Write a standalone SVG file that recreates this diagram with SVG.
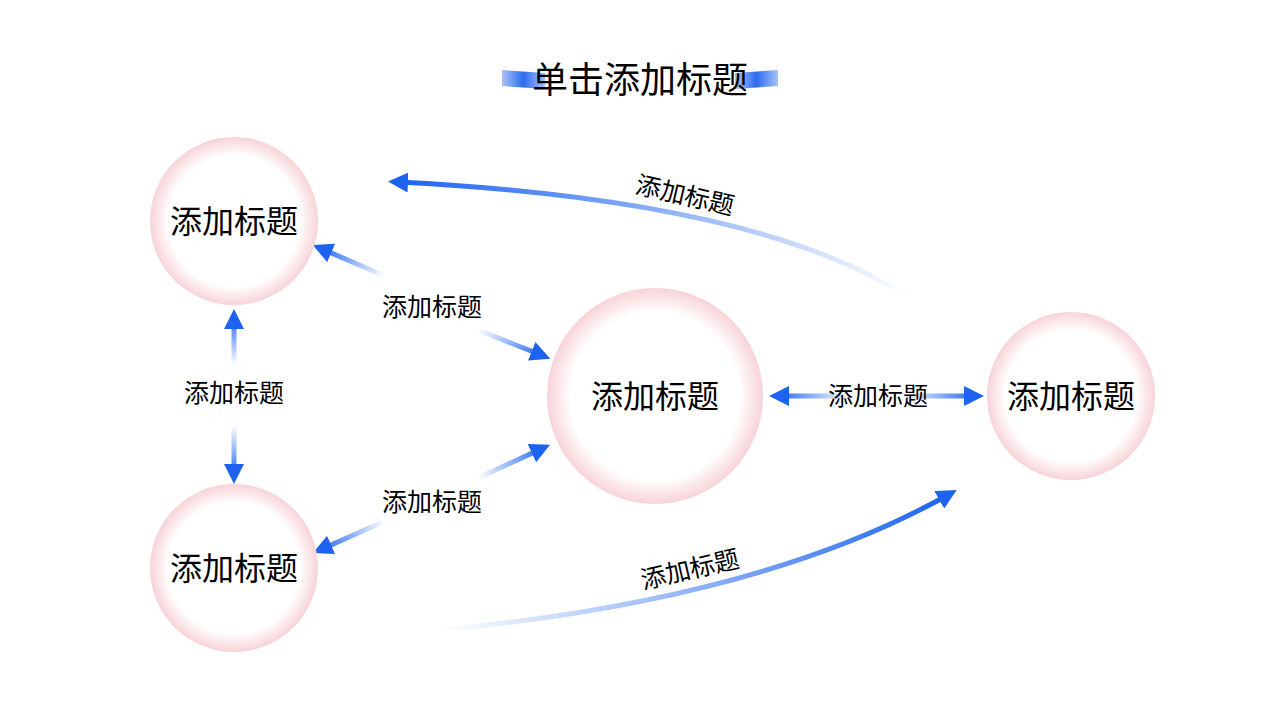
<svg xmlns="http://www.w3.org/2000/svg" width="1280" height="720" viewBox="0 0 1280 720">
<defs>
<radialGradient id="cg"><stop offset="0.78" stop-color="#fff"/><stop offset="1" stop-color="#f7d3d8"/></radialGradient>
<marker id="ah" viewBox="0 0 10 10" refX="5" refY="5" markerWidth="4" markerHeight="4" orient="auto" markerUnits="strokeWidth"><path d="M0,0L10,5L0,10z" fill="#1d63f0"/></marker>
<linearGradient id="g1" gradientUnits="userSpaceOnUse" x1="385" y1="276" x2="318" y2="247"><stop offset="0" stop-color="#1d63f0" stop-opacity="0"/><stop offset="1" stop-color="#1d63f0"/></linearGradient>
<linearGradient id="g2" gradientUnits="userSpaceOnUse" x1="478" y1="330" x2="545" y2="357"><stop offset="0" stop-color="#1d63f0" stop-opacity="0"/><stop offset="1" stop-color="#1d63f0"/></linearGradient>
<linearGradient id="g3" gradientUnits="userSpaceOnUse" x1="234" y1="365" x2="234" y2="315"><stop offset="0" stop-color="#1d63f0" stop-opacity="0"/><stop offset="1" stop-color="#1d63f0"/></linearGradient>
<linearGradient id="g4" gradientUnits="userSpaceOnUse" x1="234" y1="425" x2="234" y2="478"><stop offset="0" stop-color="#1d63f0" stop-opacity="0"/><stop offset="1" stop-color="#1d63f0"/></linearGradient>
<linearGradient id="g5" gradientUnits="userSpaceOnUse" x1="478" y1="478" x2="545" y2="447"><stop offset="0" stop-color="#1d63f0" stop-opacity="0"/><stop offset="1" stop-color="#1d63f0"/></linearGradient>
<linearGradient id="g6" gradientUnits="userSpaceOnUse" x1="385" y1="521" x2="318" y2="551"><stop offset="0" stop-color="#1d63f0" stop-opacity="0"/><stop offset="1" stop-color="#1d63f0"/></linearGradient>
<linearGradient id="g7" gradientUnits="userSpaceOnUse" x1="850" y1="396" x2="775" y2="396"><stop offset="0" stop-color="#1d63f0" stop-opacity="0"/><stop offset="1" stop-color="#1d63f0"/></linearGradient>
<linearGradient id="g8" gradientUnits="userSpaceOnUse" x1="900" y1="396" x2="978" y2="396"><stop offset="0" stop-color="#1d63f0" stop-opacity="0"/><stop offset="1" stop-color="#1d63f0"/></linearGradient>
<linearGradient id="g9" gradientUnits="userSpaceOnUse" x1="910" y1="298" x2="400" y2="183"><stop offset="0" stop-color="#1d63f0" stop-opacity="0"/><stop offset="1" stop-color="#1d63f0"/></linearGradient>
<linearGradient id="g10" gradientUnits="userSpaceOnUse" x1="440" y1="630" x2="945" y2="497"><stop offset="0" stop-color="#1d63f0" stop-opacity="0"/><stop offset="1" stop-color="#1d63f0"/></linearGradient>
<linearGradient id="tb" x1="0" y1="0" x2="1" y2="0"><stop offset="0" stop-color="#a9c2f5"/><stop offset="0.5" stop-color="#2d6cf0"/><stop offset="1" stop-color="#a9c2f5"/></linearGradient>
<style>
.n{fill:url(#cg)}
.t{font-family:"Noto Sans CJK SC","Noto Sans",sans-serif;fill:#000;text-anchor:middle}
.nt{font-size:32px}
.lt{font-size:25px}
.c{fill:none;stroke-width:5;marker-end:url(#ah)}
</style>
</defs>
<g id="title">
<path d="M502,70L545,73L545,89L502,86z" fill="url(#tb)"/>
<path d="M735,73L778,70L778,86L735,89z" fill="url(#tb)"/>
<text class="t" x="640" y="93" font-size="36">单击添加标题</text>
</g>
<g id="connectors">
<path class="c" d="M385,276L322,249" stroke="url(#g1)"/>
<path class="c" d="M478,330L541,355" stroke="url(#g2)"/>
<path class="c" d="M234,365L234,319" stroke="url(#g3)"/>
<path class="c" d="M234,425L234,474" stroke="url(#g4)"/>
<path class="c" d="M478,478L541,449" stroke="url(#g5)"/>
<path class="c" d="M385,521L322,549" stroke="url(#g6)"/>
<path class="c" d="M850,396L779,396" stroke="url(#g7)"/>
<path class="c" d="M900,396L974,396" stroke="url(#g8)"/>
<path class="c" d="M910,298Q760,200 398,182" stroke="url(#g9)"/>
<path class="c" d="M440,630Q760,600 948,495" stroke="url(#g10)"/>
<text class="t lt" x="432" y="316">添加标题</text>
<text class="t lt" x="234" y="402">添加标题</text>
<text class="t lt" x="432" y="511">添加标题</text>
<text class="t lt" x="878" y="405">添加标题</text>
<text class="t lt" transform="translate(683,204) rotate(13)">添加标题</text>
<text class="t lt" transform="translate(692,578) rotate(-13)">添加标题</text>
</g>
<g id="n1"><circle class="n" cx="234" cy="221" r="84"/><text class="t nt" x="234" y="233">添加标题</text></g>
<g id="n2"><circle class="n" cx="234" cy="568" r="84"/><text class="t nt" x="234" y="580">添加标题</text></g>
<g id="n3"><circle class="n" cx="655" cy="396" r="108"/><text class="t nt" x="655" y="408">添加标题</text></g>
<g id="n4"><circle class="n" cx="1071" cy="396" r="84"/><text class="t nt" x="1071" y="408">添加标题</text></g>
</svg>
